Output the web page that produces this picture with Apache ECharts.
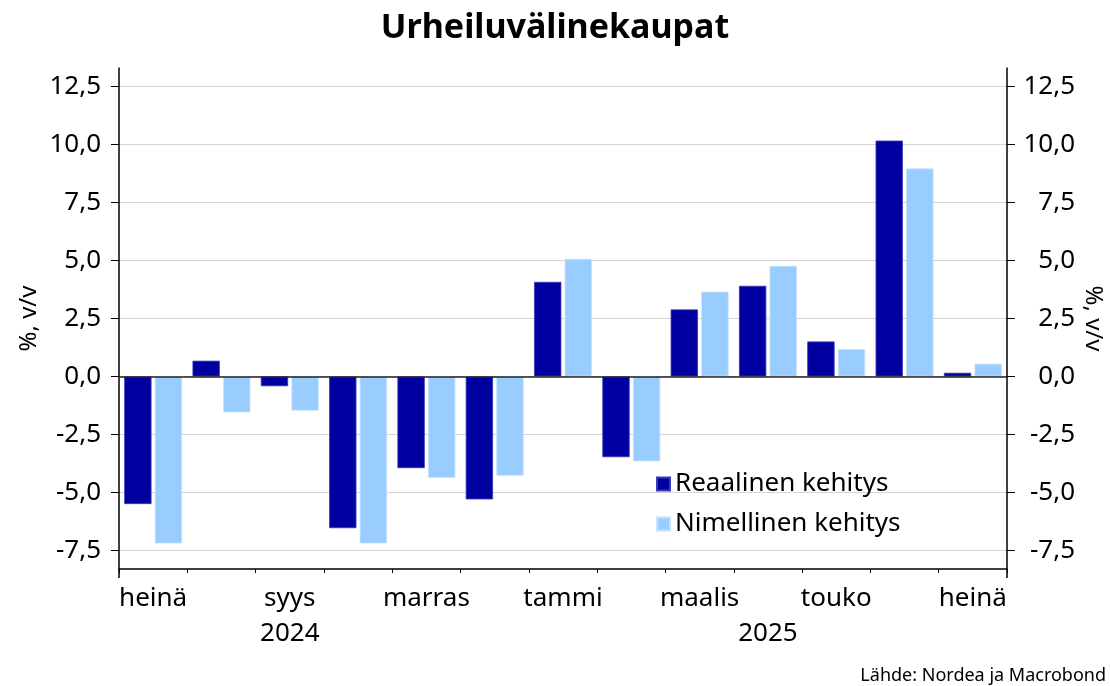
<!DOCTYPE html>
<html>
<head>
<meta charset="utf-8">
<script src="https://cdn.jsdelivr.net/npm/echarts@6/dist/echarts.min.js"></script>
<style>
  html, body { margin: 0; padding: 0; background: #fff; }
  #chart { width: 1110px; height: 686px; }
</style>
</head>
<body>
<div id="chart"></div>
<script>
const categories = ['2024-07','2024-08','2024-09','2024-10','2024-11','2024-12','2025-01','2025-02','2025-03','2025-04','2025-05','2025-06','2025-07'];
const monthLabels = ['heinä','elo','syys','loka','marras','joulu','tammi','helmi','maalis','huhti','touko','kesä','heinä'];
const yearLabels = ['', '', '2024', '', '', '', '', '', '', '2025', '', '', ''];
const realGrowth = [-5.50, 0.68, -0.42, -6.54, -3.95, -5.30, 4.08, -3.48, 2.89, 3.91, 1.51, 10.17, 0.16];
const nominalGrowth = [-7.20, -1.55, -1.47, -7.20, -4.37, -4.28, 5.07, -3.66, 3.66, 4.77, 1.18, 8.97, 0.55];
const yTicks = [-7.5, -5, -2.5, 0, 2.5, 5, 7.5, 10, 12.5];
const seriesNames = ['Reaalinen kehitys', 'Nimellinen kehitys'];

const FONT = 'Noto Sans';
const fmt = v => v.toFixed(1).replace('.', ',');

const chart = echarts.init(document.getElementById('chart'), null, { renderer: 'canvas' });

const yAxisBase = {
  type: 'value',
  min: -8.3,
  max: 13.3,
  name: '%, v/v',
  nameLocation: 'middle',
  nameMoveOverlap: false,
  nameTextStyle: { fontFamily: FONT, fontSize: 24, color: '#000' },
  axisLine: { show: true, lineStyle: { color: '#000', width: 1.5 } },
  axisTick: { show: true, length: 8, inside: false, customValues: yTicks, lineStyle: { color: '#000', width: 1 } },
  axisLabel: { customValues: yTicks, formatter: fmt, fontFamily: FONT, fontSize: 26, color: '#000' },
  splitLine: { show: true, lineStyle: { color: '#d4d4d4', width: 1.2 } }
};

chart.setOption({
  animation: false,
  backgroundColor: '#fff',
  title: {
    text: 'Urheiluvälinekaupat',
    left: 'center',
    top: 6,
    textStyle: { fontFamily: FONT, fontSize: 34, fontWeight: 'bold', color: '#000' }
  },
  graphic: [{
    type: 'text',
    right: 4,
    bottom: 1,
    style: { text: 'Lähde: Nordea ja Macrobond', fontFamily: FONT, fontSize: 18, fill: '#000' }
  }],
  legend: {
    orient: 'vertical',
    left: 656,
    top: 470,
    padding: 0,
    itemWidth: 13,
    itemHeight: 13,
    itemGap: 12,
    icon: 'rect',
    data: seriesNames,
    textStyle: { fontFamily: FONT, fontSize: 26, color: '#000', lineHeight: 28 }
  },
  grid: { left: 119, right: 103, top: 68, bottom: 117, containLabel: false, outerBoundsMode: 'none' },
  xAxis: [{
    type: 'category',
    data: categories,
    position: 'bottom',
    boundaryGap: true,
    axisLine: { show: true, onZero: false, lineStyle: { color: '#000', width: 1.5 } },
    axisTick: { show: true, interval: 0, length: 4, lineStyle: { color: '#000', width: 1 } },
    axisLabel: {
      interval: 1,
      margin: 17,
      formatter: (v, i) => monthLabels[i],
      fontFamily: FONT, fontSize: 26, color: '#000'
    },
    splitLine: { show: false }
  }, {
    type: 'category',
    data: categories,
    position: 'bottom',
    boundaryGap: true,
    axisLine: { show: false, onZero: false },
    axisTick: { show: true, interval: (i) => i === 6, length: 9, lineStyle: { color: '#000', width: 1.5 } },
    axisLabel: {
      interval: (i) => yearLabels[i] !== '',
      margin: 52,
      formatter: (v, i) => yearLabels[i],
      fontFamily: FONT, fontSize: 26, color: '#000'
    },
    splitLine: { show: false }
  }],
  yAxis: [
    Object.assign({}, yAxisBase, {
      position: 'left',
      nameGap: 78,
      nameRotate: 90,
      axisLabel: Object.assign({}, yAxisBase.axisLabel, { margin: 18 })
    }),
    Object.assign({}, yAxisBase, {
      position: 'right',
      nameGap: 74,
      nameRotate: -90,
      splitLine: { show: false },
      axisLabel: Object.assign({}, yAxisBase.axisLabel, { margin: 68, align: 'right' })
    })
  ],
  series: [{
    name: seriesNames[0],
    type: 'bar',
    xAxisIndex: 0,
    yAxisIndex: 0,
    data: realGrowth,
    barWidth: '40%',
    barGap: '12%',
    itemStyle: { color: '#0000A0', borderColor: '#3a3ab8', borderWidth: 0.8 },
    markLine: {
      silent: true,
      symbol: 'none',
      label: { show: false },
      lineStyle: { color: '#222', width: 1.5, type: 'solid' },
      data: [{ yAxis: 0 }]
    },
    z: 3
  }, {
    name: seriesNames[1],
    type: 'bar',
    xAxisIndex: 0,
    yAxisIndex: 0,
    data: nominalGrowth,
    barWidth: '40%',
    barGap: '12%',
    itemStyle: { color: '#99CCFF', borderColor: '#c6e2ff', borderWidth: 0.8 },
    z: 2
  }]
});
</script>
</body>
</html>
